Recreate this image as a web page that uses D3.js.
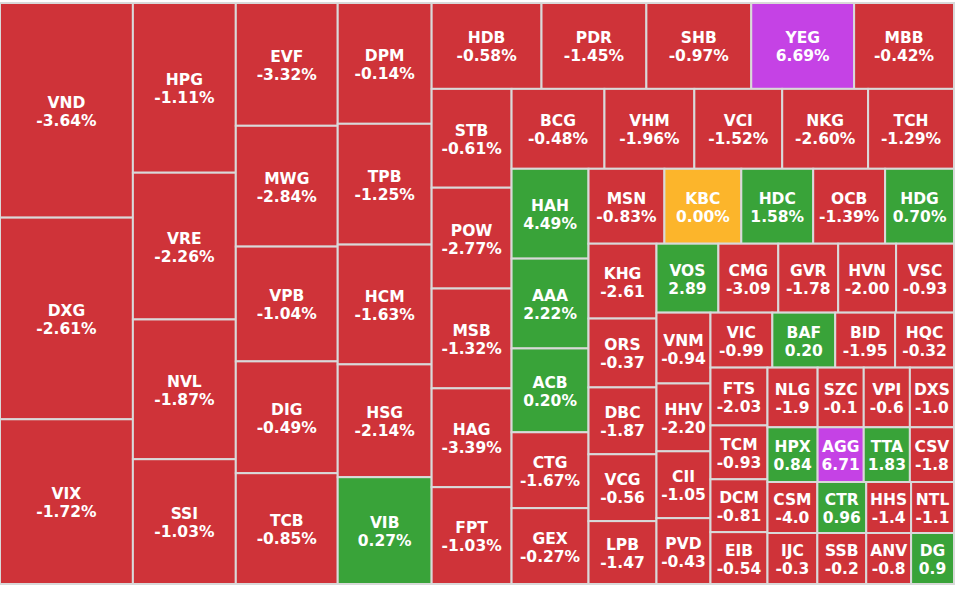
<!DOCTYPE html>
<html><head><meta charset="utf-8">
<script src="https://cdn.jsdelivr.net/npm/d3@7"></script>
<style>html,body{margin:0;padding:0;background:#fff;} svg{display:block;}</style>
</head><body><svg id="chart" width="960" height="590"></svg>
<script>
// ---- data ----
const tickers = ["VND","DXG","VIX","HPG","VRE","NVL","SSI","EVF","MWG","VPB","DIG","TCB",
  "DPM","TPB","HCM","HSG","VIB","HDB","PDR","SHB","YEG","MBB","STB","POW","MSB","HAG","FPT",
  "BCG","VHM","VCI","NKG","TCH","HAH","AAA","ACB","CTG","GEX","MSN","KBC","HDC","OCB","HDG",
  "KHG","ORS","DBC","VCG","LPB","VOS","CMG","GVR","HVN","VSC","VNM","HHV","CII","PVD",
  "VIC","BAF","BID","HQC","FTS","TCM","DCM","EIB","NLG","SZC","VPI","DXS","HPX","AGG","TTA","CSV",
  "CSM","IJC","CTR","SSB","HHS","NTL","ANV","DG"];
const values = [28595,26866,21945,17510,15141,14420,12875,12546,12342,11730,11424,11322,
  11374,11374,11280,10622,10058,9460,9030,9030,8858,8600,7920,8080,8000,7920,7760,
  7440,7200,7040,6880,6880,6930,6930,6468,5852,5852,5700,5775,5400,5400,5175,
  5100,4692,4556,4556,4284,4278,4140,4140,4002,4002,3834,3672,3618,3564,
  3410,3465,3300,3245,3306,3078,3021,2964,3000,2760,2760,2640,2750,2530,2530,2420,
  2550,2550,2499,2499,2295,2193,2295,2193];
const changes = [-3.64,-2.61,-1.72,-1.11,-2.26,-1.87,-1.03,-3.32,-2.84,-1.04,-0.49,-0.85,
  -0.14,-1.25,-1.63,-2.14,0.27,-0.58,-1.45,-0.97,6.69,-0.42,-0.61,-2.77,-1.32,-3.39,-1.03,
  -0.48,-1.96,-1.52,-2.60,-1.29,4.49,2.22,0.20,-1.67,-0.27,-0.83,0.00,1.58,-1.39,0.70,
  -2.61,-0.37,-1.87,-0.56,-1.47,2.89,-3.09,-1.78,-2.00,-0.93,-0.94,-2.20,-1.05,-0.43,
  -0.99,0.20,-1.95,-0.32,-2.03,-0.93,-0.81,-0.54,-1.9,-0.1,-0.6,-1.0,0.84,6.71,1.83,-1.8,
  -4.0,-0.3,0.96,-0.2,-1.4,-1.1,-0.8,0.9];
const labels = ["-3.64%","-2.61%","-1.72%","-1.11%","-2.26%","-1.87%","-1.03%","-3.32%","-2.84%","-1.04%","-0.49%","-0.85%",
  "-0.14%","-1.25%","-1.63%","-2.14%","0.27%","-0.58%","-1.45%","-0.97%","6.69%","-0.42%","-0.61%","-2.77%","-1.32%","-3.39%","-1.03%",
  "-0.48%","-1.96%","-1.52%","-2.60%","-1.29%","4.49%","2.22%","0.20%","-1.67%","-0.27%","-0.83%","0.00%","1.58%","-1.39%","0.70%",
  "-2.61","-0.37","-1.87","-0.56","-1.47","2.89","-3.09","-1.78","-2.00","-0.93","-0.94","-2.20","-1.05","-0.43",
  "-0.99","0.20","-1.95","-0.32","-2.03","-0.93","-0.81","-0.54","-1.9","-0.1","-0.6","-1.0","0.84","6.71","1.83","-1.8",
  "-4.0","-0.3","0.96","-0.2","-1.4","-1.1","-0.8","0.9"];

// strip structure of the tiling: [item count, orientation]
const strips = [[3,"col"],[4,"col"],[5,"col"],[5,"col"],[5,"row"],[5,"col"],[5,"row"],[5,"col"],
  [5,"row"],[5,"col"],[5,"row"],[4,"col"],[4,"row"],[4,"col"],[4,"row"],[4,"row"],
  [2,"col"],[2,"col"],[2,"row"],[2,"row"]];

const palette = {down:"#cf3339", up:"#39a339", ceil:"#c542e5", flat:"#fcb52b"};
function colorOf(c){ if (c >= 6.5) return palette.ceil; if (c > 0) return palette.up; if (c === 0) return palette.flat; return palette.down; }

function stripTile(parent, x0, y0, x1, y1){
  const nodes = parent.children;
  let remaining = parent.value, i0 = 0;
  for (const [count, orient] of strips){
    const kids = nodes.slice(i0, i0 + count);
    if (!kids.length) break;
    const sum = d3.sum(kids, d => d.value);
    const row = {value: sum, children: kids};
    if (orient === "row"){
      const yb = y0 + (y1 - y0) * sum / remaining;
      d3.treemapDice(row, x0, y0, x1, yb); y0 = yb;
    } else {
      const xb = x0 + (x1 - x0) * sum / remaining;
      d3.treemapSlice(row, x0, y0, xb, y1); x0 = xb;
    }
    remaining -= sum; i0 += count;
  }
}

const items = tickers.map((t,i) => ({ticker:t, value:values[i], change:changes[i], label:labels[i]}));
const root = d3.hierarchy({children: items}).sum(d => d.value || 0);
d3.treemap().tile(stripTile).size([954, 581])(root);

const svg = d3.select("#chart");
const g = svg.append("g").attr("transform","translate(0,3)");
const cell = g.selectAll("g.cell").data(root.leaves()).join("g").attr("class","cell");
cell.append("rect")
  .attr("x", d => d.x0).attr("y", d => d.y0)
  .attr("width", d => d.x1 - d.x0).attr("height", d => d.y1 - d.y0)
  .attr("fill", d => colorOf(d.data.change))
  .attr("stroke", "#d9d9d9").attr("stroke-width", 2);
const txt = cell.append("text")
  .attr("text-anchor","middle")
  .attr("font-family","'DejaVu Sans', Verdana, sans-serif")
  .attr("font-weight","bold").attr("font-size","15.5px").attr("fill","#fff");
txt.append("tspan").attr("x", d => (d.x0+d.x1)/2).attr("y", d => (d.y0+d.y1)/2 - 2.5).text(d => d.data.ticker);
txt.append("tspan").attr("x", d => (d.x0+d.x1)/2).attr("y", d => (d.y0+d.y1)/2 + 15.5).text(d => d.data.label);
</script>
</body></html>
